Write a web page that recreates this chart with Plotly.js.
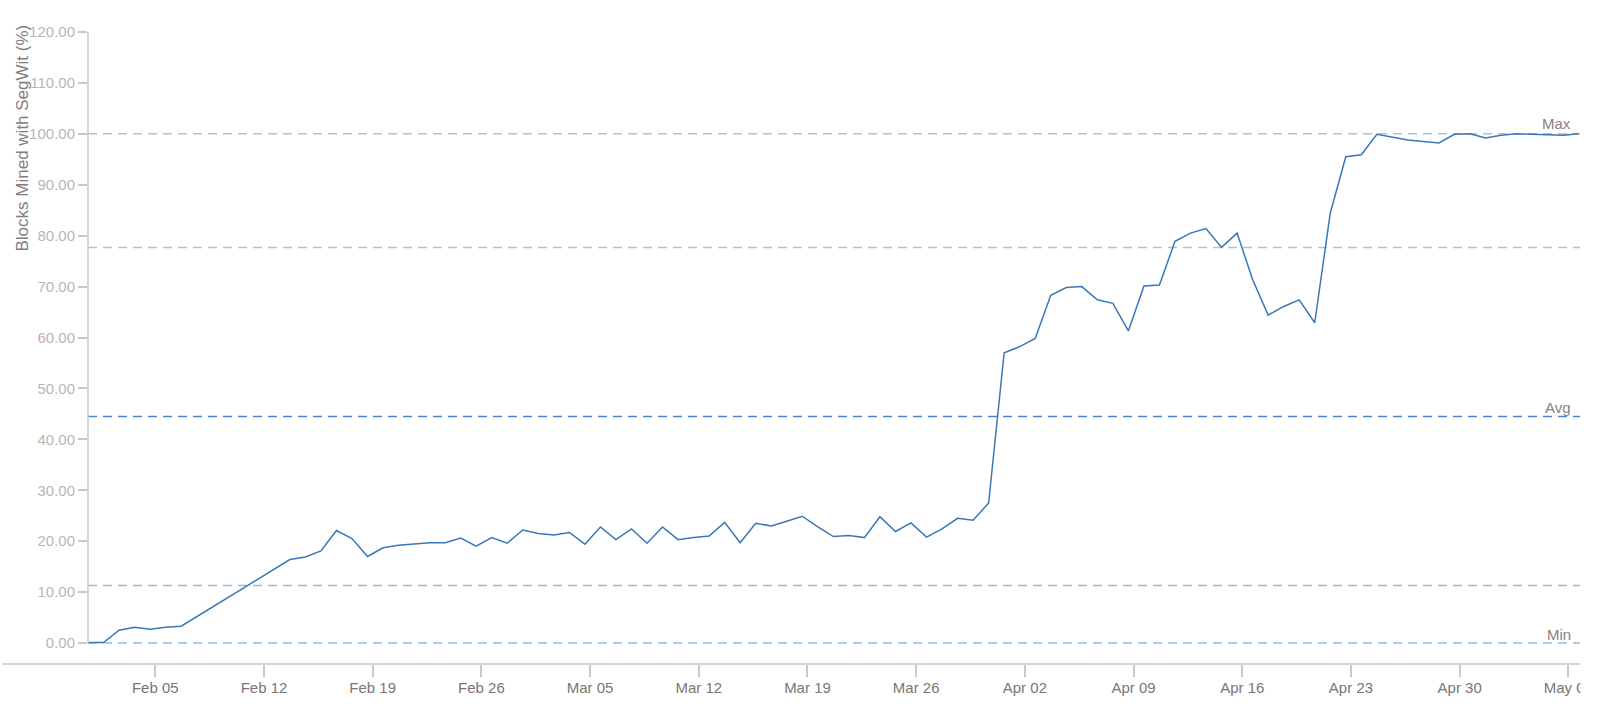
<!DOCTYPE html>
<html>
<head>
<meta charset="utf-8">
<script src="https://cdn.plot.ly/plotly-3.0.1.min.js"></script>
<style>
  html, body { margin: 0; padding: 0; background: #ffffff; }
  #chart { width: 1600px; height: 713px; }
</style>
</head>
<body>
<div id="chart"></div>
<script>
// Daily dates (UTC) — Feb 8–13 missing in the source data
const dates = [
  "2017-02-01","2017-02-02","2017-02-03","2017-02-04","2017-02-05","2017-02-06","2017-02-07",
  "2017-02-14","2017-02-15","2017-02-16","2017-02-17","2017-02-18","2017-02-19","2017-02-20",
  "2017-02-21","2017-02-22","2017-02-23","2017-02-24","2017-02-25","2017-02-26","2017-02-27",
  "2017-02-28","2017-03-01","2017-03-02","2017-03-03","2017-03-04","2017-03-05","2017-03-06",
  "2017-03-07","2017-03-08","2017-03-09","2017-03-10","2017-03-11","2017-03-12","2017-03-13",
  "2017-03-14","2017-03-15","2017-03-16","2017-03-17","2017-03-18","2017-03-19","2017-03-20",
  "2017-03-21","2017-03-22","2017-03-23","2017-03-24","2017-03-25","2017-03-26","2017-03-27",
  "2017-03-28","2017-03-29","2017-03-30","2017-03-31","2017-04-01","2017-04-02","2017-04-03",
  "2017-04-04","2017-04-05","2017-04-06","2017-04-07","2017-04-08","2017-04-09","2017-04-10",
  "2017-04-11","2017-04-12","2017-04-13","2017-04-14","2017-04-15","2017-04-16","2017-04-17",
  "2017-04-18","2017-04-19","2017-04-20","2017-04-21","2017-04-22","2017-04-23","2017-04-24",
  "2017-04-25","2017-04-26","2017-04-27","2017-04-28","2017-04-29","2017-04-30","2017-05-01",
  "2017-05-02","2017-05-03","2017-05-04","2017-05-05","2017-05-06","2017-05-07","2017-05-08"
];

// Blocks mined with SegWit (%)
const segwitPct = [
  0.1, 0.1, 2.5, 3.1, 2.7, 3.1, 3.3,
  16.4, 16.9, 18.1, 22.1, 20.5, 17.0, 18.7,
  19.2, 19.5, 19.7, 19.7, 20.6, 19.0, 20.7,
  19.6, 22.2, 21.5, 21.2, 21.7, 19.4, 22.8,
  20.3, 22.4, 19.6, 22.8, 20.3, 20.7, 21.0,
  23.7, 19.7, 23.5, 23.0, 23.9, 24.9, 22.8,
  20.9, 21.1, 20.7, 24.8, 21.9, 23.6, 20.8,
  22.4, 24.5, 24.1, 27.5, 57.0, 58.2, 59.8,
  68.3, 69.8, 70.0, 67.4, 66.7, 61.3, 70.1,
  70.3, 78.9, 80.5, 81.4, 77.7, 80.5, 71.4,
  64.4, 66.1, 67.4, 62.9, 84.4, 95.5, 95.9,
  99.9, 99.3, 98.8, 98.5, 98.2, 99.9, 100.0,
  99.2, 99.7, 100.0, 99.9, 99.8, 99.7, 100.0
];

// Reference lines
const refNames  = ["Max", "", "Avg", "", "Min"];
const refValues = [100.0, 77.7, 44.5, 11.3, 0.0];
const refColors = ["#a9c5dc", "#a9c5dc", "#4a86c2", "#92bbe3", "#92bbe3"];
const refLabelShift = [0, 0, -2, 0, -2];

const yTickMin = 0, yTickMax = 120, yTickStep = 10;

const shapes = [];
refValues.forEach((v, i) => {
  shapes.push({
    type: "line", xref: "paper", yref: "y", layer: "below",
    x0: 0, x1: 1, y0: v, y1: v,
    line: { color: refColors[i], width: 1.5, dash: "9px,6px" }
  });
});
// y axis line (from 0 up to 120)
shapes.push({
  type: "line", xref: "paper", yref: "y", x0: 0, x1: 0, y0: yTickMin, y1: yTickMax,
  line: { color: "#c9c9c9", width: 1.5 }
});
// x axis line, extends past the y axis to the left
shapes.push({
  type: "line", xref: "paper", yref: "paper", x0: -0.0576, x1: 1, y0: 0, y1: 0,
  line: { color: "#c9c9c9", width: 1.5 }
});
// clip the overflowing last tick label at the plot's right edge
shapes.push({
  type: "rect", xref: "paper", yref: "paper", layer: "above",
  x0: 1.0004, x1: 1.05, y0: -0.12, y1: -0.004,
  line: { width: 0 }, fillcolor: "#ffffff"
});

const annotations = [];
refValues.forEach((v, i) => {
  if (!refNames[i]) return;
  annotations.push({
    xref: "paper", yref: "y", x: 0.9951, y: v,
    xanchor: "right", yanchor: "bottom", yshift: refLabelShift[i],
    text: refNames[i], showarrow: false,
    font: { family: "Liberation Sans, Arial, sans-serif", size: 15, color: "#8a8181" }
  });
});
annotations.push({
  xref: "paper", yref: "paper", x: -0.0436, y: 0.833,
  xanchor: "center", yanchor: "middle", textangle: -90,
  text: "Blocks Mined with SegWit (%)", showarrow: false,
  font: { family: "Liberation Sans, Arial, sans-serif", size: 17, color: "#857c7c" }
});

const trace = {
  x: dates, y: segwitPct, type: "scatter", mode: "lines",
  line: { color: "#3a78b5", width: 1.5 },
  hoverinfo: "x+y", showlegend: false
};

const layout = {
  width: 1600, height: 713,
  margin: { l: 88, r: 20, t: 32, b: 49 },
  paper_bgcolor: "#ffffff", plot_bgcolor: "#ffffff",
  showlegend: false,
  font: { family: "Liberation Sans, Arial, sans-serif" },
  xaxis: {
    type: "date",
    range: ["2017-02-01 00:00", "2017-05-08 02:00"],
    tick0: "2017-01-01 08:00", dtick: 7 * 86400000,
    tickformat: "%b %d",
    ticks: "outside", ticklen: 12, tickwidth: 1.5, tickcolor: "#c9c9c9",
    ticklabelstandoff: -2,
    tickfont: { size: 15, color: "#7d7474" },
    showgrid: false, zeroline: false, showline: false
  },
  yaxis: {
    range: [-4.124, 120],
    tick0: yTickMin, dtick: yTickStep,
    tickformat: ".2f",
    ticks: "outside", ticklen: 9, tickwidth: 1.5, tickcolor: "#c9c9c9",
    tickfont: { size: 15, color: "#bab5b5" },
    showgrid: false, zeroline: false, showline: false
  },
  shapes: shapes,
  annotations: annotations
};

Plotly.newPlot("chart", [trace], layout, { displayModeBar: false, staticPlot: false });
</script>
</body>
</html>
